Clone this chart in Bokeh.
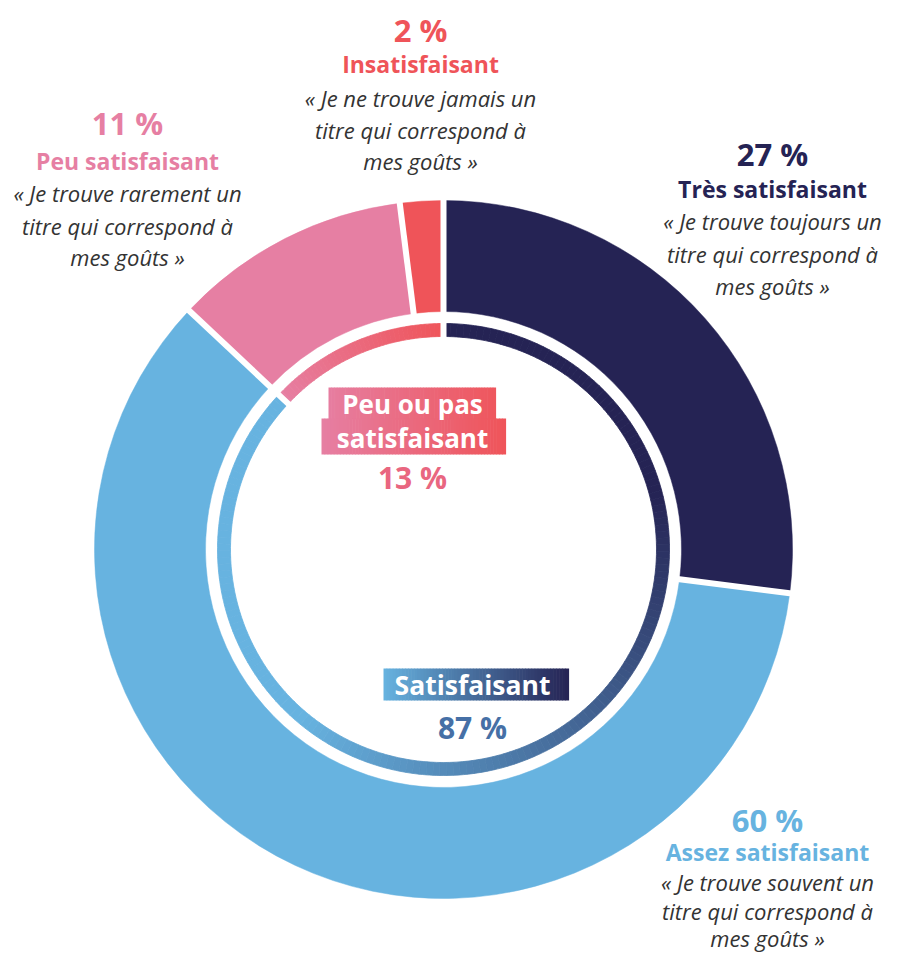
import numpy as np
from bokeh.plotting import figure
from bokeh.models import Range1d
from bokeh.core.properties import value
from bokeh.embed import file_html
from bokeh.resources import INLINE

# ---------------- data ----------------
categories = ["Très satisfaisant", "Assez satisfaisant", "Peu satisfaisant", "Insatisfaisant"]
shares = [27, 60, 11, 2]
pct_labels = ["27 %", "60 %", "11 %", "2 %"]
quotes = [
    ["« Je trouve toujours un", "titre qui correspond à", "mes goûts »"],
    ["« Je trouve souvent un", "titre qui correspond à", "mes goûts »"],
    ["« Je trouve rarement un", "titre qui correspond à", "mes goûts »"],
    ["« Je ne trouve jamais un", "titre qui correspond à", "mes goûts »"],
]
groups = ["Satisfaisant", "Peu ou pas satisfaisant"]
group_shares = [87, 13]
group_labels = ["87 %", "13 %"]

# ---------------- style ----------------
NAVY = "#252354"
LBLUE = "#67b3e0"
PINK = "#e67fa3"
RED = "#ef5459"
colors = [NAVY, LBLUE, PINK, RED]
FONT = value("Open Sans")

W, H = 885, 954
p = figure(width=W, height=H, x_range=Range1d(0, W), y_range=Range1d(-H, 0),
           output_backend="svg", toolbar_location=None, min_border=0,
           x_axis_type=None, y_axis_type=None)
p.grid.visible = False
p.outline_line_color = None
p.background_fill_color = "white"
p.border_fill_color = "white"

cx, cy = 443, -549
R_OUT, R_IN = 349, 238
T_OUT, T_IN = 226, 213


def hex2rgb(h):
    h = h.lstrip("#")
    return np.array([int(h[i:i + 2], 16) for i in (0, 2, 4)], dtype=float)


def mix(c1, c2, t):
    a, b = hex2rgb(c1), hex2rgb(c2)
    c = a + (b - a) * t
    return "#%02x%02x%02x" % tuple(int(round(v)) for v in c)


def to_bokeh(deg_cw):
    # clockwise-from-top degrees -> bokeh radians (anticlockwise from +x)
    return np.radians(90 - np.asarray(deg_cw, dtype=float))


# outer ring
cum = np.concatenate([[0], np.cumsum(shares)]) / 100 * 360
p.annular_wedge(x=cx, y=cy, inner_radius=R_IN, outer_radius=R_OUT,
                start_angle=to_bokeh(cum[1:]), end_angle=to_bokeh(cum[:-1]),
                fill_color=colors, line_color=colors, line_width=0.5)

# inner thin ring with gradients
gcum = np.concatenate([[0], np.cumsum(group_shares)]) / 100 * 360
xs_a0, xs_a1, xs_col = [], [], []
n1 = 180
edges = np.linspace(gcum[0], gcum[1], n1 + 1)
for i in range(n1):
    mid = 0.5 * (edges[i] + edges[i + 1])
    t = np.clip((mid - 75) / (220 - 75), 0, 1)
    xs_a0.append(edges[i]); xs_a1.append(edges[i + 1]); xs_col.append(mix(NAVY, LBLUE, t))
n2 = 40
edges = np.linspace(gcum[1], gcum[2], n2 + 1)
for i in range(n2):
    mid = 0.5 * (edges[i] + edges[i + 1])
    t = (mid - gcum[1]) / (gcum[2] - gcum[1])
    xs_a0.append(edges[i]); xs_a1.append(edges[i + 1]); xs_col.append(mix(PINK, RED, t))
p.annular_wedge(x=cx, y=cy, inner_radius=T_IN, outer_radius=T_OUT,
                start_angle=to_bokeh(xs_a1), end_angle=to_bokeh(xs_a0),
                fill_color=xs_col, line_color=xs_col, line_width=0.8)

# white separating gaps
gap_w = 6
for a in cum[:-1]:
    full = any(abs(a - g) < 1e-6 for g in gcum[:-1])
    r0 = 200 if full else R_IN - 4
    ang = to_bokeh(a)
    p.segment(x0=cx + r0 * np.cos(ang), y0=cy + r0 * np.sin(ang),
              x1=cx + (R_OUT + 6) * np.cos(ang), y1=cy + (R_OUT + 6) * np.sin(ang),
              line_color="white", line_width=gap_w, line_cap="butt")

# ---------------- outer labels ----------------
label_pos = [  # (x, pct_y, title_y, quote ys)
    (772, 153, 188, [220, 253, 285]),
    (767, 819, 851, [881, 910, 937]),
    (127, 122, 160, [192, 225, 256]),
    (420, 29, 63, [97, 129, 160]),
]
for i, cat in enumerate(categories):
    x, py, ty, qys = label_pos[i]
    p.text(x=[x], y=[-py], text=[pct_labels[i]], text_font=FONT, text_font_style="bold",
           text_font_size="31px", text_color=colors[i], text_align="center", text_baseline="middle")
    p.text(x=[x], y=[-ty], text=[cat], text_font=FONT, text_font_style="bold",
           text_font_size="23px", text_color=colors[i], text_align="center", text_baseline="middle")
    p.text(x=[x] * 3, y=[-v for v in qys], text=quotes[i], text_font=FONT,
           text_font_style="italic", text_font_size="22px", text_color="#333333",
           text_align="center", text_baseline="middle")

# ---------------- center labels ----------------
def grad_box(x0, x1, y0, y1, c0, c1, gx0, gx1, n=60):
    e = np.linspace(x0, x1, n + 1)
    cols = [mix(c0, c1, np.clip((0.5 * (e[k] + e[k + 1]) - gx0) / (gx1 - gx0), 0, 1)) for k in range(n)]
    p.quad(left=e[:-1], right=e[1:] + 0.6, bottom=-y1, top=-y0, fill_color=cols, line_color=None)

# Peu ou pas satisfaisant
grad_box(328, 495, 387, 419, PINK, RED, 321, 505)
grad_box(321, 505, 418, 454, PINK, RED, 321, 505)
words = groups[1].split(" ")
p.text(x=[412, 412], y=[-403, -437], text=[" ".join(words[:3]), words[3]], text_font=FONT,
       text_font_style="bold", text_font_size="26px", text_color="white",
       text_align="center", text_baseline="middle")
p.text(x=[412], y=[-477], text=[group_labels[1]], text_font=FONT, text_font_style="bold",
       text_font_size="30px", text_color="#e96680", text_align="center", text_baseline="middle")

# Satisfaisant
grad_box(383, 568, 668, 700, LBLUE, NAVY, 383, 568)
p.text(x=[472], y=[-684], text=[groups[0]], text_font=FONT, text_font_style="bold",
       text_font_size="26.5px", text_color="white", text_align="center", text_baseline="middle")
p.text(x=[472], y=[-727], text=[group_labels[0]], text_font=FONT, text_font_style="bold",
       text_font_size="30px", text_color="#4670a6", text_align="center", text_baseline="middle")

open("out.html", "w").write(file_html(p, INLINE))
